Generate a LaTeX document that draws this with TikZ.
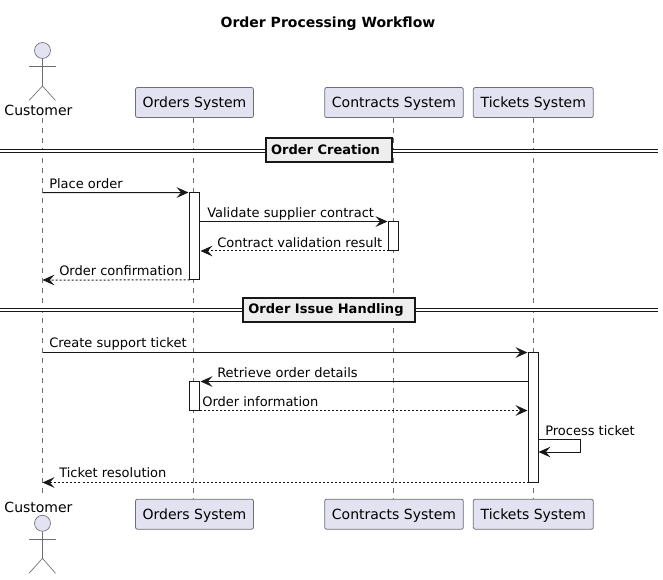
\documentclass[tikz,border=0pt]{standalone}
\usepackage{fontspec}
\setmainfont{DejaVu Sans}
\usetikzlibrary{arrows.meta}

\definecolor{partfill}{HTML}{E2E2F0}
\definecolor{partline}{HTML}{6E6E78}
\definecolor{lineink}{HTML}{181818}
\definecolor{sepfill}{HTML}{EEEEEE}

\def\XC{42.5}
\def\XO{193}
\def\XK{393.5}
\def\XT{533.5}
\def\YT{102.5}
\def\YB{514.2}

\tikzset{
  part/.style={draw=partline,fill=partfill,rounded corners=1.5pt,line width=.6pt,
    inner sep=0pt,minimum height=22.5pt,text height=9.5pt,text depth=2pt,
    font=\fontsize{10.5}{12}\selectfont},
  bar/.style={draw=lineink,fill=white,line width=.75pt,inner sep=0pt,outer sep=0pt,minimum width=7.5pt},
  msg/.style={inner sep=0pt,anchor=base west,text=black,font=\fontsize{9.75}{12}\selectfont},
  sep/.style={draw=lineink,fill=sepfill,line width=1.5pt,inner sep=0pt,minimum height=18pt,
    font=\fontsize{9.75}{12}\selectfont\bfseries},
  life/.style={draw=partline,line width=.5pt,dash pattern=on 3.75pt off 3.75pt},
  call/.style={draw=lineink,line width=.75pt,->},
  back/.style={draw=lineink,line width=.75pt,->,dash pattern=on 1.5pt off 1.5pt},
  tobar/.style={shorten >=.75pt},
  stick/.style={draw=partline,line width=.5pt}
}

\begin{document}
\begin{tikzpicture}[x=.75pt,y=-.75pt,
    >={Stealth[length=9pt,width=8pt,inset=3.5pt]}]
  \useasboundingbox (0,0) rectangle (663,579);
  \node[font=\fontsize{10.5}{12}\selectfont\bfseries] (title) at (328,24) {Order Processing Workflow};

  % participants, top and bottom
  \node[part,minimum width=88.5pt] (O1) at (194.5,\YT) {Orders System};
  \node[part,minimum width=104pt]  (K1) at (394,\YT) {Contracts System};
  \node[part,minimum width=90pt]   (T1) at (533.3,\YT) {Tickets System};
  \node[part,minimum width=88.5pt] (O2) at (194.5,\YB) {Orders System};
  \node[part,minimum width=104pt]  (K2) at (394,\YB) {Contracts System};
  \node[part,minimum width=90pt]   (T2) at (533.3,\YB) {Tickets System};

  % actors
  \node[font=\fontsize{10.5}{12}\selectfont,inner sep=0pt] (C1) at (38.5,110) {Customer};
  \node[font=\fontsize{10.5}{12}\selectfont,inner sep=0pt] (C2) at (38.5,507) {Customer};
  \node[circle,stick,fill=partfill,minimum size=12pt,inner sep=0pt] (H1) at (\XC,50.5) {};
  \node[circle,stick,fill=partfill,minimum size=12pt,inner sep=0pt] (H2) at (\XC,523.3) {};
  \coordinate (W1) at (\XC,86);
  \coordinate (W2) at (\XC,558.3);
  \coordinate (AL1) at (29,66);
  \coordinate (AR1) at (55.5,66);
  \coordinate (AL2) at (29,539.3);
  \coordinate (AR2) at (55.5,539.3);
  \coordinate (FL1) at (29,100.5);
  \coordinate (FR1) at (55.5,100.5);
  \coordinate (FL2) at (29,573.3);
  \coordinate (FR2) at (55.5,573.3);
  \draw[stick] (H1) -- (W1);
  \draw[stick] (H2) -- (W2);
  \draw[stick] (AL1) -- (AR1);
  \draw[stick] (AL2) -- (AR2);
  \draw[stick] (FL1) -- (W1) -- (FR1);
  \draw[stick] (FL2) -- (W2) -- (FR2);

  % lifelines
  \coordinate (LC1) at (\XC,118);
  \coordinate (LC2) at (\XC,498);
  \draw[life] (LC1) -- (LC2);
  \draw[life] (O1.south -| \XO,0) -- (O2.north -| \XO,0);
  \draw[life] (K1.south -| \XK,0) -- (K2.north -| \XK,0);
  \draw[life] (T1.south -| \XT,0) -- (T2.north -| \XT,0);

  % section dividers
  \coordinate (S1a) at (0,151);
  \coordinate (S1b) at (658,151);
  \coordinate (S2a) at (0,309.7);
  \coordinate (S2b) at (658,309.7);
  \draw[lineink,line width=.75pt,double=white,double distance=1.6pt] (S1a) -- (S1b);
  \draw[lineink,line width=.75pt,double=white,double distance=1.6pt] (S2a) -- (S2b);
  \node[sep,minimum width=95pt] (S1) at (329,150) {Order Creation\hspace*{5.25pt}};
  \node[sep,minimum width=129pt] (S2) at (329,310) {Order Issue Handling\hspace*{4.5pt}};

  % activation bars
  \node[bar,minimum height=65.6pt]  (BO1) at (194.5,236.25) {};
  \node[bar,minimum height=22.1pt]  (BK)  at (393.5,236.25) {};
  \node[bar,minimum height=21.75pt] (BO2) at (194.5,396) {};
  \node[bar,minimum height=97.5pt]  (BT)  at (533.5,417.5) {};

  % free ends on the customer lifeline
  \coordinate (M1) at (\XC,192.5);
  \coordinate (M4) at (\XC,280);
  \coordinate (M5) at (\XC,352.5);
  \coordinate (M9) at (\XC,482.5);

  \draw[call,tobar] (M1) -- (BO1.north west);
  \coordinate (M2) at (BO1.east |- BK.north);
  \draw[call,tobar] (M2) -- (BK.north west);
  \coordinate (M3) at (BO1.east |- BK.south);
  \draw[back,tobar] (BK.south west) -- (M3);
  \draw[back] (BO1.south west) -- (M4);
  \draw[call,tobar] (M5) -- (BT.north west);
  \coordinate (M6) at (BT.west |- BO2.north);
  \draw[call,tobar] (M6) -- (BO2.north east);
  \coordinate (M7) at (BT.west |- BO2.south);
  \draw[back,tobar] (BO2.south east) -- (M7);
  \coordinate (P1) at (538.5,439);
  \coordinate (P2) at (580.5,439);
  \coordinate (P3) at (580.5,452);
  \coordinate (P4) at (538.5,452);
  \draw[call] (P1) -- (P2) -- (P3) -- (P4);
  \draw[back] (BT.south west) -- (M9);

  % message labels
  \node[msg] (L1) at (49,188) {Place order};
  \node[msg] (L2) at (207,217) {Validate supplier contract};
  \node[msg] (L3) at (217,247) {Contract validation result};
  \node[msg] (L4) at (59,275.5) {Order confirmation};
  \node[msg] (L5) at (49,347.5) {Create support ticket};
  \node[msg] (L6) at (217,377) {Retrieve order details};
  \node[msg] (L7) at (202,406) {Order information};
  \node[msg] (L8) at (545,435) {Process ticket};
  \node[msg] (L9) at (59,477) {Ticket resolution};
\end{tikzpicture}
\end{document}
